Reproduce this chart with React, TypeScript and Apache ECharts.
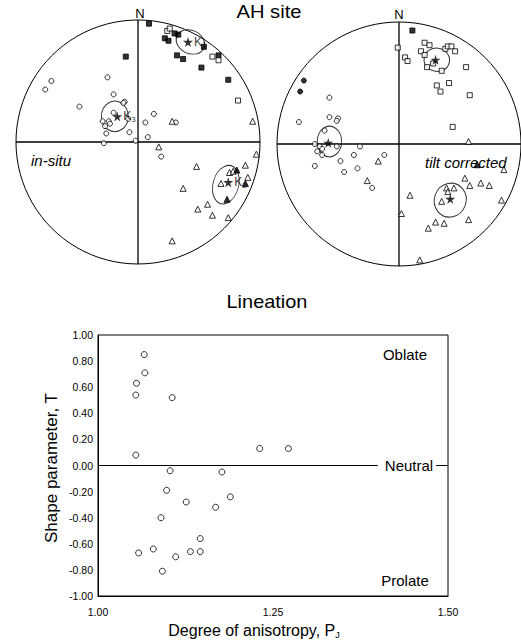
import React, { useEffect, useRef } from "react";
import * as echarts from "echarts";

// ---------- Stereonet data (x = east, y = north, unit-radius projection) ----------
// In-situ
const insituK1Filled = [[0.09,0.97],[0.22,0.85],[0.25,0.83],[0.30,0.89],[0.33,0.88],[0.54,0.78],[0.32,0.71],[0.37,0.68],[0.52,0.61],[0.74,0.51],[-0.10,0.70],[0.66,0.71]];
const insituK1Open = [[0.24,0.91],[0.26,0.93],[0.61,0.70],[0.66,0.67],[0.82,0.34]];
const insituK3Open = [[-0.71,0.50],[-0.76,0.43],[-0.25,0.53],[-0.20,0.39],[-0.48,0.29],[-0.11,0.33],[-0.12,0.32],[0.13,0.23],[0.06,0.16],[0.08,0.04],[-0.07,0.08],[-0.08,0.19],[-0.29,0.17],[-0.27,0.13],[-0.24,0.17],[-0.23,0.15],[-0.20,0.24],[-0.26,0.07],[-0.28,-0.01],[-0.02,0.01],[0.19,-0.12],[0.31,0.16]];
const insituK2Open = [[0.94,0.17],[0.28,0.17],[0.17,-0.04],[0.97,-0.10],[0.48,-0.20],[0.37,-0.38],[0.88,-0.19],[0.90,-0.29],[0.68,-0.34],[0.75,-0.25],[0.78,-0.24],[0.49,-0.55],[0.57,-0.51],[0.61,-0.60],[0.74,-0.62],[0.28,-0.81]];
const insituK2Filled = [[0.96,-0.30],[0.88,-0.34],[0.81,-0.23],[0.73,-0.47]];
const insituMeans = [[0.41,0.82],[-0.17,0.21],[0.74,-0.33]];
const insituMeanLabels = ["1", "3", "2"];
// ellipse: [x, y, width, height (unit radius), rotation deg]
const insituEllipses = [[0.43,0.82,0.24,0.19,-25],[-0.19,0.21,0.22,0.25,0],[0.72,-0.35,0.21,0.32,-15]];

// Tilt corrected
const tiltK1Filled = [[0.11,0.93]];
const tiltK1Open = [[-0.01,0.79],[0.05,0.71],[0.07,0.68],[0.21,0.83],[0.25,0.81],[0.18,0.76],[0.21,0.73],[0.23,0.63],[0.28,0.66],[0.35,0.60],[0.38,0.78],[0.40,0.80],[0.43,0.80],[0.46,0.76],[0.55,0.63],[0.31,0.48],[0.34,0.43],[0.41,0.50],[0.58,0.40],[0.44,0.14]];
const tiltK3Filled = [[-0.78,0.52],[-0.81,0.43]];
const tiltK3Open = [[-0.57,0.38],[-0.57,0.22],[-0.82,0.18],[-0.50,0.21],[-0.51,0.19],[-0.61,0.11],[-0.69,0.00],[-0.65,-0.02],[-0.63,-0.04],[-0.67,-0.06],[-0.63,-0.09],[-0.51,-0.02],[-0.32,-0.02],[-0.37,-0.09],[-0.48,-0.14],[-0.12,-0.09],[-0.69,-0.18],[-0.45,-0.23],[-0.34,-0.20],[-0.22,-0.36]];
const tiltK2Open = [[0.57,0.02],[-0.17,-0.14],[-0.26,-0.30],[0.09,-0.42],[0.02,-0.57],[0.35,-0.47],[0.39,-0.36],[0.45,-0.36],[0.40,-0.39],[0.54,-0.28],[0.58,-0.34],[0.67,-0.32],[0.74,-0.34],[0.86,-0.21],[0.84,-0.46],[0.57,-0.62],[0.30,-0.64],[0.37,-0.65],[0.24,-0.69],[0.17,-0.95]];
const tiltK2Filled = [[0.64,-0.17]];
const tiltMeans = [[0.30,0.69],[-0.58,0.01],[0.42,-0.45]];
const tiltEllipses = [[0.31,0.69,0.21,0.19,-10],[-0.57,0.02,0.20,0.25,0],[0.42,-0.46,0.26,0.28,-20]];

// ---------- Lineation (Pj vs T) ----------
const pjValues = [1.066,1.067,1.055,1.054,1.106,1.054,1.231,1.272,1.103,1.177,1.098,1.189,1.126,1.168,1.090,1.146,1.079,1.058,1.111,1.132,1.146,1.092];
const tValues = [0.85,0.71,0.63,0.54,0.52,0.08,0.13,0.13,-0.04,-0.05,-0.19,-0.24,-0.28,-0.32,-0.40,-0.56,-0.64,-0.67,-0.70,-0.66,-0.66,-0.81];
const xTicks = { min: 1.0, max: 1.5, interval: 0.25 };
const yTicks = { min: -1.0, max: 1.0, interval: 0.2 };

// ---------- layout ----------
const W = 521;
const H = 644;
const R = 122;
const FONT = "'Liberation Sans', Arial, Helvetica, sans-serif";
const STAR = "path://M50,0 L61,35 L98,35 L68,57 L79,91 L50,70 L21,91 L32,57 L2,35 L39,35 Z";

const toPolar = (p: number[]) => {
  const r = Math.hypot(p[0], p[1]);
  const a = ((Math.atan2(p[0], p[1]) * 180) / Math.PI + 360) % 360;
  return [r, a];
};

function pts(polarIndex: number, data: number[][], symbol: string, size: number, filled: boolean) {
  return {
    type: "scatter",
    coordinateSystem: "polar",
    polarIndex,
    symbol,
    symbolSize: size,
    z: 5,
    itemStyle: { color: filled ? "#000" : "#fff", borderColor: "#000", borderWidth: 1 },
    data: data.map(toPolar),
  };
}

function ellipses(polarIndex: number, data: number[][]) {
  return {
    type: "scatter",
    coordinateSystem: "polar",
    polarIndex,
    symbol: "circle",
    z: 3,
    itemStyle: { color: "rgba(0,0,0,0)", borderColor: "#000", borderWidth: 1 },
    data: data.map((e) => ({
      value: toPolar([e[0], e[1]]),
      symbolSize: [e[2] * R, e[3] * R],
      symbolRotate: e[4],
    })),
  };
}

function means(polarIndex: number, data: number[][], labels: string[] | null) {
  return {
    type: "scatter",
    coordinateSystem: "polar",
    polarIndex,
    symbol: STAR,
    symbolSize: 10,
    z: 6,
    itemStyle: { color: "#000" },
    label: {
      show: !!labels,
      position: "right",
      distance: 1,
      color: "#000",
      formatter: (p: any) => (labels ? `{k|K}{s|${labels[p.dataIndex]}}` : ""),
      rich: {
        k: { fontSize: 12, fontFamily: FONT, color: "#000" },
        s: { fontSize: 8, fontFamily: FONT, color: "#000", verticalAlign: "bottom", padding: [6, 0, 0, 0] },
      },
    },
    data: data.map(toPolar),
  };
}

function polarAxes(i: number) {
  return {
    angle: {
      polarIndex: i,
      type: "value",
      min: 0,
      max: 360,
      interval: 90,
      startAngle: 90,
      clockwise: true,
      silent: true,
      axisLine: { show: true, lineStyle: { color: "#000", width: 1 } },
      axisTick: { show: false },
      axisLabel: { show: false },
      splitLine: { show: true, lineStyle: { color: "#000", width: 1.3 } },
    },
    radius: {
      polarIndex: i,
      type: "value",
      min: 0,
      max: 1,
      silent: true,
      axisLine: { show: false },
      axisTick: { show: false },
      axisLabel: { show: false },
      splitLine: { show: false },
    },
  };
}

const fmt2 = (v: number) => (Math.abs(v) < 1e-9 ? "0.00" : v.toFixed(2));

function text(x: number, y: number, str: string, size: number, opts: any = {}) {
  return {
    type: "text",
    x,
    y,
    z: 100,
    rotation: opts.rotation || 0,
    scaleX: opts.scaleX || 1,
    style: {
      text: str,
      fontSize: size,
      fontFamily: FONT,
      fontStyle: opts.italic ? "italic" : "normal",
      fill: "#000",
      textAlign: opts.align || "center",
      textVerticalAlign: "middle",
      backgroundColor: opts.bg,
      padding: opts.padding,
      rich: opts.rich,
    },
  };
}

export default function App() {
  const ref = useRef<HTMLDivElement>(null);
  useEffect(() => {
    if (!ref.current) return;
    const chart = echarts.init(ref.current, null, { renderer: "svg", width: W, height: H });
    const a0 = polarAxes(0);
    const a1 = polarAxes(1);
    const option: any = {
      animation: false,
      backgroundColor: "#fff",
      polar: [
        { center: [138, 142], radius: R },
        { center: [399, 144], radius: R },
      ],
      angleAxis: [a0.angle, a1.angle],
      radiusAxis: [a0.radius, a1.radius],
      grid: [
        { left: 98, top: 335, width: 350, height: 261, show: true, borderColor: "#000", borderWidth: 1, backgroundColor: "rgba(0,0,0,0)" },
      ],
      xAxis: [
        {
          gridIndex: 0,
          type: "value",
          min: xTicks.min,
          max: xTicks.max,
          interval: xTicks.interval,
          axisLine: { show: true, onZero: false, lineStyle: { color: "#000", width: 1 } },
          axisTick: { show: false },
          splitLine: { show: false },
          axisLabel: { formatter: fmt2, fontSize: 10.5, color: "#000", fontFamily: FONT, margin: 10 },
        },
      ],
      yAxis: [
        {
          gridIndex: 0,
          type: "value",
          min: yTicks.min,
          max: yTicks.max,
          interval: yTicks.interval,
          axisLine: { show: true, onZero: false, lineStyle: { color: "#000", width: 1 } },
          axisTick: { show: false },
          splitLine: { show: false },
          axisLabel: { formatter: fmt2, fontSize: 10.5, color: "#000", fontFamily: FONT, margin: 5 },
        },
      ],
      series: [
        ellipses(0, insituEllipses),
        pts(0, insituK1Filled, "rect", 5, true),
        pts(0, insituK1Open, "rect", 5, false),
        pts(0, insituK3Open, "circle", 5, false),
        pts(0, insituK2Open, "triangle", 6, false),
        pts(0, insituK2Filled, "triangle", 6, true),
        means(0, insituMeans, insituMeanLabels),
        ellipses(1, tiltEllipses),
        pts(1, tiltK1Filled, "rect", 5, true),
        pts(1, tiltK1Open, "rect", 5, false),
        pts(1, tiltK3Filled, "circle", 5, true),
        pts(1, tiltK3Open, "circle", 5, false),
        pts(1, tiltK2Open, "triangle", 6, false),
        pts(1, tiltK2Filled, "triangle", 6, true),
        means(1, tiltMeans, null),
        {
          type: "scatter",
          xAxisIndex: 0,
          yAxisIndex: 0,
          symbol: "circle",
          symbolSize: 6,
          itemStyle: { color: "#fff", borderColor: "#000", borderWidth: 1 },
          data: pjValues.map((p, i) => [p, tValues[i]]),
          markLine: {
            silent: true,
            symbol: "none",
            label: { show: false },
            lineStyle: { color: "#000", width: 1, type: "solid" },
            data: [{ yAxis: 0 }],
          },
        },
      ],
      graphic: [
        text(269, 12, "AH site", 18, { scaleX: 1.12 }),
        text(140, 13, "N", 13),
        text(399, 14, "N", 13),
        text(31, 160, "in-situ", 15, { italic: true, align: "left" }),
        text(425, 162, "tilt corrected", 15, { italic: true, align: "left" }),
        text(267, 301, "Lineation", 19, { scaleX: 1.05 }),
        text(405, 354, "Oblate", 15),
        text(405, 580, "Prolate", 15),
        text(407, 465, "Neutral", 15, { bg: "#fff", padding: [2, 3, 2, 7] }),
        text(51, 468, "Shape parameter, T", 17, { rotation: Math.PI / 2 }),
        text(254, 630, "{a|Degree of anisotropy, P}{b|J}", 16, {
          rich: {
            a: { fontSize: 16, fontFamily: FONT, fill: "#000" },
            b: { fontSize: 9, fontFamily: FONT, fill: "#000", padding: [10, 0, 0, 0] },
          },
        }),
      ],
    };
    chart.setOption(option);
    return () => chart.dispose();
  }, []);
  return <div ref={ref} style={{ position: "absolute", left: 0, top: 0, width: W, height: H }} />;
}
